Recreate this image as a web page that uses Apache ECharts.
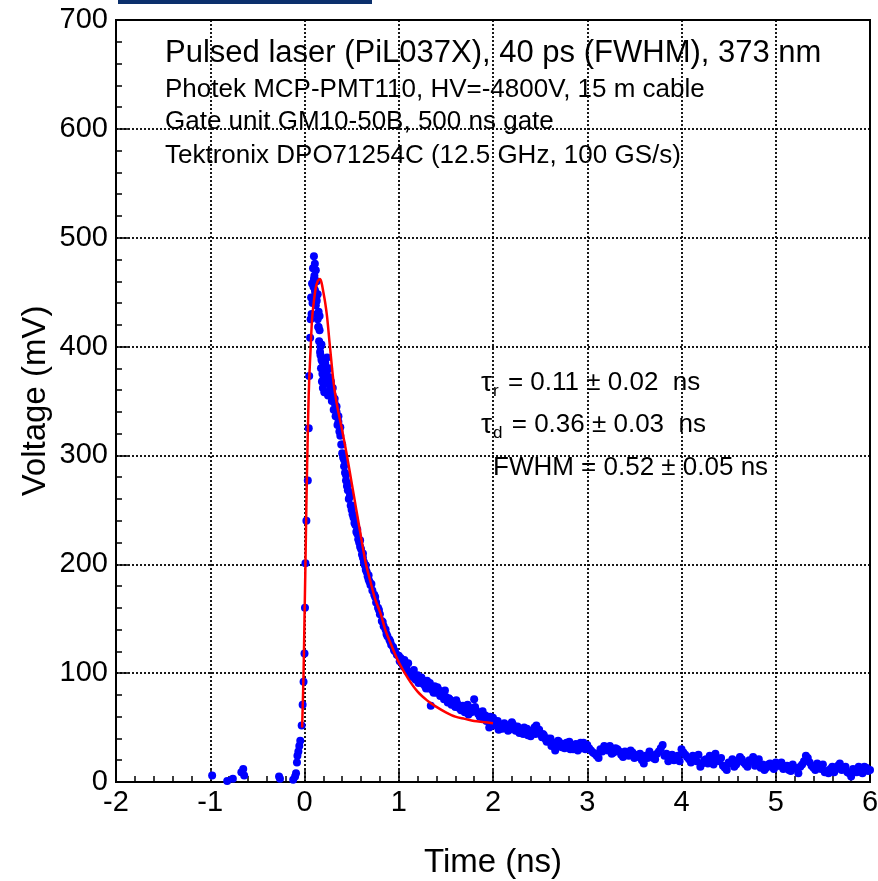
<!DOCTYPE html>
<html>
<head>
<meta charset="utf-8">
<script src="https://cdn.jsdelivr.net/npm/echarts@6/dist/echarts.min.js"></script>
<style>
html,body{margin:0;padding:0;background:#fff;}
#chart{width:878px;height:881px;}
</style>
</head>
<body>
<div id="chart"></div>
<script>
// ---- Data ----
const xTicks = [-2, -1, 0, 1, 2, 3, 4, 5, 6];
const yTicks = [0, 100, 200, 300, 400, 500, 600, 700];

// measured pulse (blue points): time in ns, voltage in mV
const pulseTime = [
  -0.98, -0.82, -0.76, -0.67, -0.65, -0.64, -0.27, -0.26, -0.12, -0.10, -0.09, -0.08, -0.075, -0.065, -0.055, -0.045, -0.03, -0.02, -0.01, 0.00, 0.005, 0.01, 0.02, 0.035, 0.045, 0.05, 0.06,
  0.065, 0.07, 0.075, 0.08, 0.085, 0.09, 0.095, 0.10, 0.105, 0.11, 0.115, 0.12, 0.125, 0.13, 0.135, 0.14, 0.145, 0.15, 0.155, 0.16, 0.165, 0.17, 0.175, 0.18, 0.185, 0.19, 0.195, 0.20,
  0.21, 0.22, 0.23, 0.24, 0.25, 0.26, 0.27, 0.28, 0.29, 0.30, 0.31, 0.32, 0.33, 0.34, 0.35, 0.36, 0.37, 0.38, 0.39, 0.40,
  0.41, 0.42, 0.43, 0.44, 0.45, 0.46, 0.47, 0.48, 0.49, 0.50, 0.51, 0.52, 0.53, 0.54, 0.55, 0.56, 0.57, 0.58, 0.59, 0.60,
  0.61, 0.62, 0.63, 0.64, 0.65, 0.66, 0.67, 0.68, 0.69, 0.70, 0.72, 0.74, 0.76, 0.78, 0.80, 0.82, 0.84, 0.86, 0.88, 0.90,
  0.92, 0.94, 0.96, 0.98, 1.00, 1.02, 1.04, 1.06, 1.08, 1.10, 1.12, 1.14, 1.16, 1.18, 1.20, 1.22, 1.24, 1.26, 1.28, 1.30,
  1.32, 1.34, 1.36, 1.38, 1.40, 1.42, 1.44, 1.46, 1.48, 1.50, 1.52, 1.54, 1.56, 1.58, 1.60, 1.62, 1.64, 1.66, 1.68, 1.70,
  1.72, 1.74, 1.76, 1.78, 1.80, 1.82, 1.84, 1.86, 1.88, 1.90, 1.92, 1.94, 1.96, 1.98, 2.00, 2.02, 2.04, 2.06, 2.08, 2.10,
  2.12, 2.14, 2.16, 2.18, 2.20, 2.22, 2.24, 2.26, 2.28, 2.30, 2.32, 2.34, 2.36, 2.38, 2.40, 2.42, 2.44, 2.46, 2.48, 2.50,
  2.52, 2.54, 2.56, 2.58, 2.60, 2.62, 2.64, 2.66, 2.68, 2.70, 2.72, 2.74, 2.76, 2.78, 2.80, 2.82, 2.84, 2.86, 2.88, 2.90,
  2.92, 2.94, 2.96, 2.98, 3.00, 3.04, 3.08, 3.12, 3.16, 3.20, 3.24, 3.28, 3.32, 3.36, 3.40, 3.44, 3.48, 3.52, 3.56, 3.60,
  3.64, 3.68, 3.72, 3.76, 3.80, 3.84, 3.88, 3.92, 3.96, 4.00, 4.04, 4.08, 4.12, 4.16, 4.20, 4.24, 4.28, 4.32, 4.36, 4.40,
  4.44, 4.48, 4.52, 4.56, 4.60, 4.64, 4.68, 4.72, 4.76, 4.80, 4.84, 4.88, 4.92, 4.96, 5.00, 5.04, 5.08, 5.12, 5.16, 5.20,
  5.24, 5.28, 5.32, 5.36, 5.40, 5.44, 5.48, 5.52, 5.56, 5.60, 5.64, 5.68, 5.72, 5.76, 5.80, 5.84, 5.88, 5.92, 5.96, 6.00
];
const pulseVoltage = [
  6, 1, 3, 9, 12, 6, 5, 3, 2, 5, 8, 18, 24, 28, 33, 38, 52, 71, 92, 118, 160, 201, 240, 277, 325, 373, 408,
  425, 445, 430, 458, 440, 472, 455, 483, 465, 476, 450, 470, 445, 460, 430, 448, 418, 432, 405, 415, 395, 400, 380, 388, 368, 375, 362, 370,
  358, 385, 366, 378, 355, 372, 360, 368, 350, 355, 342, 348, 336, 340, 328, 331, 322, 318, 310, 302,
  298, 290, 284, 277, 272, 268, 260, 262, 254, 250, 246, 243, 238, 236, 230, 228, 223, 220, 216, 214,
  209, 206, 202, 199, 195, 193, 189, 186, 184, 181, 176, 172, 165, 160, 154, 148, 143, 140, 134, 131,
  126, 124, 120, 117, 116, 114, 108, 112, 104, 109, 100, 97, 103, 94, 98, 92, 96, 90, 88, 93,
  86, 70, 84, 88, 82, 85, 79, 83, 76, 78, 73, 76, 71, 74, 69, 72, 68, 66, 70, 64,
  67, 62, 65, 68, 76, 66, 63, 60, 64, 58, 61, 57, 50, 55, 59, 56, 53, 48, 51, 49,
  54, 50, 47, 52, 55, 50, 47, 51, 45, 48, 44, 47, 49, 45, 42, 46, 50, 52, 47, 44,
  41, 43, 39, 40, 37, 33, 36, 29, 34, 37, 33, 35, 31, 36, 33, 30, 34, 31, 35, 29,
  33, 31, 36, 30, 34, 29, 26, 22, 28, 31, 33, 27, 30, 25, 28, 24, 27, 23, 26, 17,
  22, 25, 21, 28, 34, 26, 22, 20, 24, 30, 25, 21, 24, 19, 14, 20, 17, 22, 26, 19,
  15, 11, 17, 14, 19, 21, 16, 20, 23, 17, 13, 11, 16, 14, 18, 15, 12, 15, 10, 13,
  8, 16, 24, 18, 13, 17, 12, 9, 8, 14, 12, 17, 13, 9, 5, 10, 14, 8, 13, 11
];
// additional samples in between (the pulse is sampled densely)
const extraTime = [
  0.09, 0.10, 0.11, 0.12, 0.13, 0.14, 0.15, 0.16, 0.17, 0.18, 0.19, 0.20, 0.22, 0.24, 0.26, 0.28, 0.30, 0.32, 0.34, 0.36,
  0.38, 0.40, 0.42, 0.44, 0.46, 0.48, 0.50, 0.53, 0.56, 0.59, 0.62, 0.65, 0.68, 0.71, 0.75, 0.79, 0.83, 0.87, 0.91, 0.95,
  1.01, 1.05, 1.09, 1.13, 1.17, 1.21, 1.25, 1.29, 1.33, 1.37, 1.41, 1.45, 1.49, 1.53, 1.57, 1.61, 1.65, 1.69, 1.73, 1.77,
  1.81, 1.85, 1.89, 1.93, 1.97, 2.01, 2.05, 2.09, 2.13, 2.17, 2.21, 2.25, 2.29, 2.33, 2.37, 2.41, 2.45, 2.49, 2.53, 2.57,
  2.61, 2.65, 2.69, 2.73, 2.77, 2.81, 2.85, 2.89, 2.93, 2.97, 3.02, 3.06, 3.10, 3.14, 3.18, 3.22, 3.26, 3.30, 3.34, 3.38,
  3.42, 3.46, 3.50, 3.54, 3.58, 3.62, 3.66, 3.70, 3.74, 3.78, 3.82, 3.86, 3.90, 3.94, 3.98, 4.02, 4.06, 4.10, 4.14, 4.18,
  4.22, 4.26, 4.30, 4.34, 4.38, 4.42, 4.46, 4.50, 4.54, 4.58, 4.62, 4.66, 4.70, 4.74, 4.78, 4.82, 4.86, 4.90, 4.94, 4.98,
  5.02, 5.06, 5.10, 5.14, 5.18, 5.22, 5.26, 5.30, 5.34, 5.38, 5.42, 5.46, 5.50, 5.54, 5.58, 5.62, 5.66, 5.70, 5.74, 5.78,
  5.82, 5.86, 5.90, 5.94, 5.98
];
const extraVoltage = [
  445, 462, 452, 438, 442, 425, 418, 428, 392, 402, 386, 380, 368, 390, 380, 362, 362, 352, 345, 336,
  326, 310, 296, 282, 274, 266, 254, 242, 232, 222, 210, 199, 190, 182, 170, 158, 147, 136, 129, 121,
  111, 106, 102, 99, 95, 91, 94, 86, 91, 82, 87, 80, 84, 77, 73, 75, 70, 67, 71, 64,
  69, 62, 65, 56, 60, 52, 56, 50, 52, 48, 53, 49, 46, 50, 43, 47, 44, 48, 44, 37,
  40, 35, 38, 32, 34, 37, 30, 33, 36, 32, 31, 27, 24, 30, 33, 29, 26, 31, 28, 23,
  26, 29, 22, 25, 20, 24, 28, 22, 26, 31, 24, 19, 25, 22, 19, 27, 23, 18, 21, 25,
  17, 21, 24, 16, 20, 22, 13, 18, 21, 16, 23, 18, 14, 19, 15, 21, 16, 13, 17, 12,
  15, 18, 13, 11, 16, 12, 14, 19, 22, 15, 11, 14, 16, 10, 12, 9, 15, 11, 14, 8,
  12, 9, 11, 14, 10
];

// fit (red curve)
const fitTime = [-0.025, -0.01, 0.00, 0.01, 0.02, 0.03, 0.04, 0.05, 0.065, 0.08, 0.10, 0.12, 0.14, 0.163, 0.18, 0.20, 0.22, 0.24, 0.27, 0.31, 0.35, 0.40, 0.45, 0.50, 0.55, 0.60, 0.65, 0.70, 0.75, 0.81, 0.86, 0.92, 1.00, 1.10, 1.20, 1.30, 1.40, 1.50, 1.60, 1.70, 1.80, 1.90, 2.00];
const fitVoltage = [50, 100, 150, 200, 255, 300, 340, 370, 398, 425, 442, 454, 460, 462, 459, 450, 440, 427, 400, 366, 344, 323, 300, 275, 250, 225, 201, 184, 168, 154, 139, 126, 110, 95, 83, 75, 69, 64, 60, 58, 56, 55, 54];

const infoLines = [
  'Pulsed laser (PiL037X), 40 ps (FWHM), 373 nm',
  'Photek MCP-PMT110, HV=-4800V, 15 m cable',
  'Gate unit GM10-50B, 500 ns gate',
  'Tektronix DPO71254C (12.5 GHz, 100 GS/s)'
];

const FONT = '"Liberation Sans", Arial, Helvetica, sans-serif';

const chart = echarts.init(document.getElementById('chart'), null, {renderer: 'canvas'});

const pulseData = pulseTime.map((t, i) => [t, pulseVoltage[i]])
  .concat(extraTime.map((t, i) => [t, extraVoltage[i]]));
const fitData = fitTime.map((t, i) => [t, fitVoltage[i]]);

const dotted = {color: '#000', width: 1.8, type: [2, 2]};
const richTau = {
  t: {fontSize: 28, fontFamily: FONT, fill: '#000'},
  m: {fontSize: 26, fontFamily: FONT, fill: '#000'},
  s: {fontSize: 17, fontFamily: FONT, fill: '#000', padding: [16, 2, 0, 1]}
};

chart.setOption({
  animation: false,
  backgroundColor: '#fff',
  grid: {left: 116, right: 8, top: 20, bottom: 99, containLabel: false, outerBoundsMode: 'none',
         show: true, borderColor: '#000', borderWidth: 2, backgroundColor: 'transparent'},
  xAxis: {
    type: 'value', min: xTicks[0], max: xTicks[xTicks.length - 1], interval: 1,
    name: 'Time (ns)', nameLocation: 'middle', nameGap: 64, nameMoveOverlap: false,
    nameTextStyle: {fontSize: 33, color: '#000', fontFamily: FONT},
    axisLine: {show: true, onZero: false, lineStyle: {color: '#000', width: 2}},
    axisTick: {show: true, inside: true, length: 12, lineStyle: {color: '#000', width: 1.5}},
    minorTick: {show: true, splitNumber: 5, length: 6, lineStyle: {color: '#000', width: 1.5}},
    axisLabel: {fontSize: 29, color: '#000', fontFamily: FONT, margin: 6},
    splitLine: {show: true, lineStyle: dotted}
  },
  yAxis: {
    type: 'value', min: yTicks[0], max: yTicks[yTicks.length - 1], interval: 100,
    name: 'Voltage (mV)', nameLocation: 'middle', nameGap: 64, nameRotate: 90, nameMoveOverlap: false,
    nameTextStyle: {fontSize: 33, color: '#000', fontFamily: FONT},
    axisLine: {show: true, onZero: false, lineStyle: {color: '#000', width: 2}},
    axisTick: {show: true, inside: true, length: 12, lineStyle: {color: '#000', width: 1.5}},
    minorTick: {show: true, splitNumber: 5, length: 6, lineStyle: {color: '#000', width: 1.5}},
    axisLabel: {fontSize: 29, color: '#000', fontFamily: FONT, margin: 8},
    splitLine: {show: true, lineStyle: dotted}
  },
  graphic: [
    {type: 'rect', left: 118, top: 0, shape: {width: 254, height: 4}, style: {fill: '#0b2f6c'}},
    {type: 'text', left: 165, top: 38, style: {text: infoLines[0], font: '31px ' + FONT, fill: '#000'}},
    {type: 'text', left: 165, top: 77, style: {text: infoLines[1], font: '26px ' + FONT, fill: '#000'}},
    {type: 'text', left: 165, top: 109, style: {text: infoLines[2], font: '26px ' + FONT, fill: '#000'}},
    {type: 'text', left: 165, top: 143, style: {text: infoLines[3], font: '26px ' + FONT, fill: '#000'}},
    {type: 'text', left: 481, top: 369, style: {rich: richTau, text: '{t|τ}{s|r}{m| = 0.11 ± 0.02  ns}'}},
    {type: 'text', left: 481, top: 411, style: {rich: richTau, text: '{t|τ}{s|d}{m| = 0.36 ± 0.03  ns}'}},
    {type: 'text', left: 493, top: 455, style: {text: 'FWHM = 0.52 ± 0.05 ns', font: '26px ' + FONT, fill: '#000'}}
  ],
  series: [
    {
      type: 'scatter', data: pulseData, symbol: 'circle', symbolSize: 8,
      itemStyle: {color: '#0000ff', opacity: 1}, z: 3
    },
    {
      type: 'line', data: fitData, smooth: 0.3, showSymbol: false, symbol: 'none',
      lineStyle: {color: '#ff0000', width: 2.5}, z: 4
    }
  ]
});
</script>
</body>
</html>
